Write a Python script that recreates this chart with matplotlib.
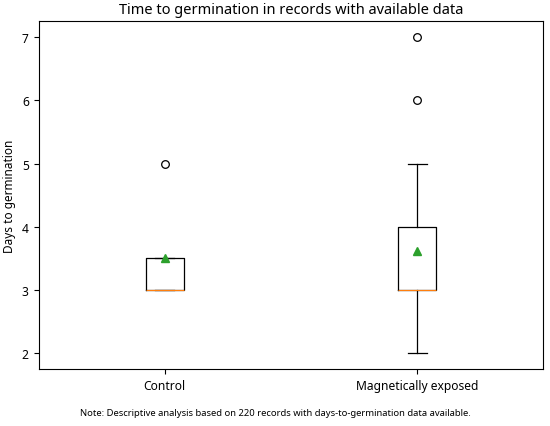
import matplotlib
matplotlib.use("Agg")
import matplotlib.pyplot as plt

plt.rcParams["font.family"] = ["Noto Sans", "DejaVu Sans"]

# Summary statistics
groups = ["Control", "Magnetically exposed"]
q1 = [3.0, 3.0]
medians = [3.0, 3.0]
q3 = [3.5, 4.0]
whisker_low = [3.0, 2.0]
whisker_high = [3.5, 5.0]
means = [3.5, 3.62]
outliers = [[5.0], [6.0, 7.0]]

stats = []
for i, name in enumerate(groups):
    stats.append({
        "label": name,
        "q1": q1[i],
        "med": medians[i],
        "q3": q3[i],
        "whislo": whisker_low[i],
        "whishi": whisker_high[i],
        "mean": means[i],
        "fliers": outliers[i],
    })

fig, ax = plt.subplots(figsize=(5.5, 4.27), dpi=100)
ax.bxp(stats, showmeans=True,
       boxprops=dict(linewidth=0.9),
       whiskerprops=dict(linewidth=0.9),
       capprops=dict(linewidth=0.9),
       medianprops=dict(linewidth=0.8),
       flierprops=dict(markersize=5.5, markeredgewidth=0.9),
       meanprops=dict(markersize=5.5))
ax.set_title("Time to germination in records with available data", fontsize=10.5)
ax.set_ylabel("Days to germination", fontsize=8.5)
ax.tick_params(labelsize=8.7)

fig.text(0.5, 0.025,
         "Note: Descriptive analysis based on 220 records with days-to-germination data available.",
         ha="center", fontsize=6.8)

fig.subplots_adjust(left=0.07, right=0.988, top=0.948, bottom=0.133)
fig.savefig("out.png")
plt.close(fig)
